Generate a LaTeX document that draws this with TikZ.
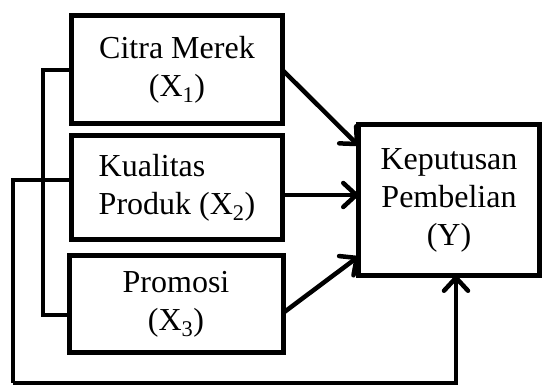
\documentclass[tikz,border=0pt]{standalone}
\usepackage{fontspec}
\setmainfont{Liberation Serif}
\usetikzlibrary{arrows.meta}

\tikzset{
  varbox/.style={draw, line width=5pt, inner sep=0pt, outer sep=0pt,
    font=\fontsize{32}{38}\selectfont},
  link/.style={line width=4pt},
  arrow/.style={line width=4.5pt, -{Straight Barb[length=13pt,width=24pt,round]}}
}

\begin{document}
\begin{tikzpicture}[x=1pt, y=-1pt]
  \useasboundingbox (0,0) rectangle (542,385);

  % independent variables
  \node[varbox, minimum width=211pt, minimum height=108pt, align=center]
    (X1) at (177,70) {Citra Merek\\(X\textsubscript{1})};
  \node[varbox, minimum width=211pt, minimum height=104pt, align=left]
    (X2) at (177,188) {Kualitas\\Produk (X\textsubscript{2})};
  \node[varbox, minimum width=214pt, minimum height=97pt, align=center]
    (X3) at (176,304) {Promosi\\(X\textsubscript{3})};

  % dependent variable
  \node[varbox, minimum width=181pt, minimum height=151pt, align=center]
    (Y) at (449,200) {Keputusan\\Pembelian\\(Y)};

  % partial effects
  \draw[arrow] (X1.east) -- (Y.149);
  \draw[arrow] ([yshift=-7pt]X2.east) -- ([yshift=5pt]Y.west);
  \draw[arrow] ([yshift=-9pt]X3.east) -- (Y.212);

  % bracket X1--X3
  \draw[link] (X1.west) -| (43,315) -- ([yshift=-11pt]X3.west);

  % simultaneous effect
  \coordinate (fb) at (13,383);
  \draw[link] ([yshift=8pt]X2.west) -| (fb);
  \draw[arrow] (fb) -| ([xshift=7pt]Y.south);
\end{tikzpicture}
\end{document}
